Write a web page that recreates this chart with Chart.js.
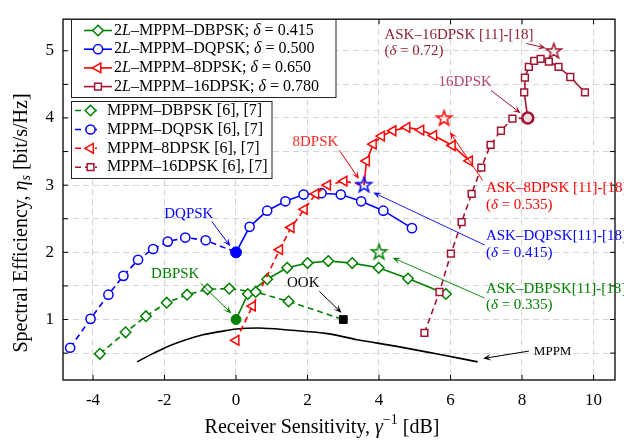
<!DOCTYPE html>
<html><head><meta charset="utf-8">
<script src="https://cdn.jsdelivr.net/npm/chart.js@4.4.0/dist/chart.umd.min.js"></script>
<style>html,body{margin:0;padding:0;background:#fff;}canvas{display:block;}</style>
</head><body>
<canvas id="c" width="624" height="445"></canvas>
<script>
// ---------------- data ----------------
const xTickValues = [-4, -2, 0, 2, 4, 6, 8, 10];
const xTickLabels = ['-4', '-2', '0', '2', '4', '6', '8', '10'];
const yGridValues = [0.5, 1, 1.5, 2, 2.5, 3, 3.5, 4, 4.5, 5];
const yTickLabels = ['', '1', '', '2', '', '3', '', '4', '', '5'];

// 2L-MPPM (solid)
const dbpsk2L_x = [0, 0.33, 0.87, 1.43, 2.0, 2.58, 3.25, 3.99, 4.81, 5.87];
const dbpsk2L_y = [1.0, 1.38, 1.6, 1.77, 1.84, 1.87, 1.84, 1.77, 1.61, 1.38];
const dqpsk2L_x = [0, 0.38, 0.87, 1.38, 1.89, 2.39, 2.93, 3.50, 4.12, 4.92];
const dqpsk2L_y = [2.0, 2.38, 2.62, 2.76, 2.86, 2.88, 2.86, 2.76, 2.62, 2.36];
const dpsk8_2L_x = [3.58, 3.65, 3.84, 4.07, 4.39, 4.78, 5.17, 5.53, 6.05, 6.53];
const dpsk8_2L_y = [3.0, 3.36, 3.61, 3.73, 3.81, 3.86, 3.82, 3.74, 3.59, 3.36];
const dpsk16_2L_x = [8.16, 8.06, 8.08, 8.19, 8.34, 8.52, 8.75, 9.02, 9.35, 9.76];
const dpsk16_2L_y = [4.0, 4.38, 4.60, 4.76, 4.85, 4.88, 4.84, 4.76, 4.61, 4.38];

// MPPM [6],[7] (dashed)
const dbpsk_x = [-3.81, -3.09, -2.52, -1.94, -1.37, -0.80, -0.19, 0.55, 1.47, 3.0];
const dbpsk_y = [0.49, 0.81, 1.05, 1.25, 1.37, 1.45, 1.46, 1.41, 1.27, 1.0];
const dqpsk_x = [-4.64, -4.07, -3.57, -3.15, -2.74, -2.32, -1.91, -1.42, -0.85, 0];
const dqpsk_y = [0.58, 1.01, 1.37, 1.65, 1.89, 2.05, 2.16, 2.22, 2.18, 2.0];
const dpsk8_x = [0.0, 0.46, 1.22, 1.54, 1.91, 2.23, 2.56, 3.02, 3.58];
const dpsk8_y = [0.69, 1.2, 2.04, 2.37, 2.64, 2.87, 3.0, 3.06, 3.0];
const dpsk16_x = [5.27, 5.69, 6.01, 6.31, 6.59, 6.86, 7.12, 7.41, 7.73, 8.16];
const dpsk16_y = [0.80, 1.41, 1.98, 2.45, 2.87, 3.26, 3.60, 3.81, 3.99, 4.0];

// MPPM (black)
const mppm_x = [-2.77, -2.3, -1.86, -1.4, -0.95, -0.45, 0, 0.62, 1.55, 2.56, 3.39, 4.5, 5.6, 6.76];
const mppm_y = [0.37, 0.50, 0.61, 0.70, 0.77, 0.82, 0.86, 0.875, 0.84, 0.79, 0.70, 0.60, 0.49, 0.37];

// ASK stars
const askStar_x = [4.0, 3.58, 5.82, 8.89];
const askStar_y = [2.0, 3.0, 3.99, 4.99];

// reference points
const ookX = [3.0], ookY = [1.0];
const dbpskRefX = [0], dbpskRefY = [1.0];
const dqpskRefX = [0], dqpskRefY = [2.0];
const dpsk16RefX = [8.16], dpsk16RefY = [4.0];

const legend1Labels = ['2*L*–MPPM–DBPSK; *δ* = 0.415', '2*L*–MPPM–DQPSK; *δ* = 0.500', '2*L*–MPPM–8DPSK; *δ* = 0.650', '2*L*–MPPM–16DPSK; *δ* = 0.780'];
const legend2Labels = ['MPPM–DBPSK [6], [7]', 'MPPM–DQPSK [6], [7]', 'MPPM–8DPSK [6], [7]', 'MPPM–16DPSK [6], [7]'];

// ---------------- styles ----------------
const GREEN = '#008000', BLUE = '#0000ff', RED = '#ff0000', CRIM = '#a2142f';
const FONT = '"Liberation Serif", "DejaVu Serif", serif';
const colors = [GREEN, BLUE, RED, CRIM];
const markers = ['rectRot', 'circle', 'triangle', 'rect'];
const mRadius = [5.3, 4.6, 5.6, 4.8];
const mRot = [0, 0, -90, 0];
const DASH = [6, 4];

const pts = (xs, ys) => xs.map((x, i) => ({ x: x, y: ys[i] }));

function starCanvas(color, R, lw) {
  const s = Math.ceil(2 * R + lw * 2 + 2);
  const c = document.createElement('canvas'); c.width = s; c.height = s;
  const g = c.getContext('2d');
  g.beginPath();
  for (let i = 0; i < 10; i++) {
    const a = -Math.PI / 2 + i * Math.PI / 5;
    const rr = i % 2 ? R * 0.40 : R;
    g.lineTo(s / 2 + rr * Math.cos(a), s / 2 + rr * Math.sin(a));
  }
  g.closePath(); g.strokeStyle = color; g.lineWidth = lw; g.lineJoin = 'miter'; g.stroke();
  return c;
}

function lineDs(label, xs, ys, k, dashed, skipFirst, skipLast) {
  const n = xs.length;
  return {
    label: label, data: pts(xs, ys), showLine: true,
    borderColor: colors[k], backgroundColor: '#fff', borderWidth: 1.6,
    borderDash: dashed ? DASH : [],
    pointStyle: markers[k], pointRotation: mRot[k],
    pointRadius: c => ((skipFirst && c.dataIndex === 0) || (skipLast && c.dataIndex === n - 1)) ? 0 : mRadius[k],
    pointBorderWidth: 1.5, pointBorderColor: colors[k], pointBackgroundColor: '#fff',
    tension: 0, order: 5
  };
}

const datasets = [
  { label: 'MPPM', data: pts(mppm_x, mppm_y), showLine: true, borderColor: '#000', borderWidth: 1.6, pointRadius: 0, tension: 0.35, cubicInterpolationMode: 'monotone', order: 9 },
  lineDs('MPPM–DBPSK', dbpsk_x, dbpsk_y, 0, true, false, true),
  lineDs('MPPM–DQPSK', dqpsk_x, dqpsk_y, 1, true, false, true),
  lineDs('MPPM–8DPSK', dpsk8_x, dpsk8_y, 2, true, false, true),
  lineDs('MPPM–16DPSK', dpsk16_x, dpsk16_y, 3, true, false, true),
  lineDs('2L–MPPM–DBPSK', dbpsk2L_x, dbpsk2L_y, 0, false, true, false),
  lineDs('2L–MPPM–DQPSK', dqpsk2L_x, dqpsk2L_y, 1, false, true, false),
  lineDs('2L–MPPM–8DPSK', dpsk8_2L_x, dpsk8_2L_y, 2, false, true, false),
  lineDs('2L–MPPM–16DPSK', dpsk16_2L_x, dpsk16_2L_y, 3, false, true, false),
  { label: 'OOK', data: pts(ookX, ookY), pointStyle: 'rect', pointRadius: 5.5, pointBackgroundColor: '#000', pointBorderColor: '#000', order: 1 },
  { label: 'DBPSK ref', data: pts(dbpskRefX, dbpskRefY), pointStyle: 'circle', pointRadius: 5, pointBackgroundColor: GREEN, pointBorderColor: GREEN, order: 1 },
  { label: 'DQPSK ref', data: pts(dqpskRefX, dqpskRefY), pointStyle: 'circle', pointRadius: 5.5, pointBackgroundColor: BLUE, pointBorderColor: BLUE, order: 1 },
  { label: '16DPSK ref', data: pts(dpsk16RefX, dpsk16RefY), pointStyle: 'circle', pointRadius: 5.5, pointBorderWidth: 2.6, pointBackgroundColor: '#f2dde2', pointBorderColor: CRIM, order: 1 },
  { label: 'ASK', data: pts(askStar_x, askStar_y), pointStyle: colors.map(c => starCanvas(c, 8, 1.5)), pointRadius: 8, order: 0 }
];

// ---------------- helpers ----------------
function parseRich(str) {
  return str.split('*').map((t, i) => ({ t: t, it: i % 2 === 1 })).filter(s => s.t.length);
}
function segFont(s, size) {
  const sz = size * (s.sc || 1);
  return (s.it ? 'italic ' : '') + sz + 'px ' + FONT;
}
function richWidth(ctx, segs, size) {
  let w = 0;
  for (const s of segs) { ctx.font = segFont(s, size); w += ctx.measureText(s.t).width; }
  return w;
}
function drawRich(ctx, segs, x, y, size, align) {
  const w = richWidth(ctx, segs, size);
  let cx = align === 'center' ? x - w / 2 : (align === 'right' ? x - w : x);
  ctx.textBaseline = 'middle'; ctx.textAlign = 'left';
  for (const s of segs) {
    ctx.font = segFont(s, size);
    ctx.fillText(s.t, cx, y + (s.dy || 0) * size);
    cx += ctx.measureText(s.t).width;
  }
}
function arrow(ctx, x1, y1, x2, y2, color, lw) {
  ctx.save(); ctx.strokeStyle = color; ctx.fillStyle = color; ctx.lineWidth = lw;
  const a = Math.atan2(y2 - y1, x2 - x1), L = 8, W = 3.3;
  const ca = Math.cos(a), sa = Math.sin(a);
  ctx.beginPath(); ctx.moveTo(x1, y1); ctx.lineTo(x2 - L * 0.6 * ca, y2 - L * 0.6 * sa); ctx.stroke();
  ctx.beginPath();
  ctx.moveTo(x2, y2);
  ctx.lineTo(x2 - L * ca + W * sa, y2 - L * sa - W * ca);
  ctx.lineTo(x2 - L * 0.55 * ca, y2 - L * 0.55 * sa);
  ctx.lineTo(x2 - L * ca - W * sa, y2 - L * sa + W * ca);
  ctx.closePath(); ctx.fill(); ctx.restore();
}

// annotations (data coords)
const annotations = [
  { lines: ['DQPSK'], color: BLUE, x: -1.32, y: 2.57, align: 'center', size: 15, arr: [-0.68, 2.46, -0.16, 2.09], ac: BLUE, lw: 1 },
  { lines: ['DBPSK'], color: GREEN, x: -1.70, y: 1.67, align: 'center', size: 15, arr: [-0.99, 1.54, -0.13, 1.09], ac: GREEN, lw: 1 },
  { lines: ['OOK'], color: '#000', x: 1.88, y: 1.55, align: 'center', size: 15, arr: [2.33, 1.42, 2.95, 1.10], ac: '#000', lw: 1 },
  { lines: ['8DPSK'], color: '#ff2a2a', x: 2.22, y: 3.64, align: 'center', size: 15, arr: [2.89, 3.52, 3.44, 3.09], ac: RED, lw: 1 },
  { lines: ['16DPSK'], color: '#b5446a', x: 6.41, y: 4.54, align: 'center', size: 15, arr: [7.13, 4.41, 7.96, 4.07], ac: CRIM, lw: 1 },
  { lines: ['ASK–16DPSK [11]-[18]', '(*δ* = 0.72)'], color: '#8b2232', x: 4.15, y: 5.24, align: 'left', size: 15, arr: [8.12, 5.11, 8.66, 5.04], ac: CRIM, lw: 1 },
  { lines: ['ASK–8DPSK [11]-[18]', '(*δ* = 0.535)'], color: RED, x: 6.99, y: 2.95, align: 'left', size: 15, arr: [6.9, 3.07, 5.98, 3.79], ac: RED, lw: 1 },
  { lines: ['ASK–DQPSK[11]-[18]', '(*δ* = 0.415)'], color: BLUE, x: 6.99, y: 2.24, align: 'left', size: 15, arr: [6.95, 2.11, 3.84, 2.89], ac: BLUE, lw: 0.9 },
  { lines: ['ASK–DBPSK[11]-[18]', '(*δ* = 0.335)'], color: GREEN, x: 6.99, y: 1.46, align: 'left', size: 15, arr: [6.95, 1.32, 4.38, 1.92], ac: GREEN, lw: 0.9 },
  { lines: ['MPPM'], color: '#000', x: 8.33, y: 0.53, align: 'left', size: 13, arr: [8.19, 0.53, 6.91, 0.42], ac: '#000', lw: 1 }
];

const framePlugin = {
  id: 'frame',
  afterDatasetsDraw(chart) {
    const { ctx, chartArea: a, scales: { x, y } } = chart;
    ctx.save();
    ctx.strokeStyle = '#000'; ctx.lineWidth = 1.3;
    ctx.strokeRect(a.left, a.top, a.right - a.left, a.bottom - a.top);
    ctx.beginPath(); ctx.lineWidth = 1;
    for (const v of xTickValues) {
      const p = x.getPixelForValue(v);
      ctx.moveTo(p, a.bottom); ctx.lineTo(p, a.bottom - 5);
      ctx.moveTo(p, a.top); ctx.lineTo(p, a.top + 5);
    }
    for (const v of yGridValues) {
      const p = y.getPixelForValue(v);
      ctx.moveTo(a.left, p); ctx.lineTo(a.left + 5, p);
      ctx.moveTo(a.right, p); ctx.lineTo(a.right - 5, p);
    }
    ctx.stroke();
    ctx.restore();
  },
  afterDraw(chart) {
    const { ctx, scales: { x, y } } = chart;
    ctx.save();
    // annotations
    for (const an of annotations) {
      if (an.arr) {
        arrow(ctx, x.getPixelForValue(an.arr[0]), y.getPixelForValue(an.arr[1]),
          x.getPixelForValue(an.arr[2]), y.getPixelForValue(an.arr[3]), an.ac, an.lw);
      }
      ctx.fillStyle = an.color;
      an.lines.forEach((ln, i) => {
        drawRich(ctx, parseRich(ln), x.getPixelForValue(an.x), y.getPixelForValue(an.y) + i * 16.6, an.size, an.align);
      });
    }
    // axis titles
    ctx.fillStyle = '#000';
    drawRich(ctx, [{ t: 'Receiver Sensitivity, ' }, { t: 'γ', it: true }, { t: '−1', sc: 0.7, dy: -0.38 }, { t: ' [dB]' }], 322, 428, 20, 'center');
    ctx.save();
    ctx.translate(22, 223); ctx.rotate(-Math.PI / 2);
    drawRich(ctx, [{ t: 'Spectral Efficiency, ' }, { t: 'η', it: true }, { t: 's', it: true, sc: 0.7, dy: 0.22 }, { t: ' [bit/s/Hz]' }], 0, 0, 20, 'center');
    ctx.restore();
    // legends
    const boxes = [
      { x: 71.5, y: 19.5, w: 264.5, h: 78, labels: legend1Labels, dashed: false, l0: 84, l1: 112, m: 98, tx: 114, ry: [30.5, 49.2, 67.9, 86.6] },
      { x: 71.5, y: 101.5, w: 200.5, h: 77, labels: legend2Labels, dashed: true, l0: 75, l1: 97, m: 90.5, tx: 107, ry: [110.5, 129.5, 148.3, 167.2] }
    ];
    for (const b of boxes) {
      ctx.fillStyle = '#fff'; ctx.fillRect(b.x, b.y, b.w, b.h);
      ctx.strokeStyle = '#222'; ctx.lineWidth = 1; ctx.strokeRect(b.x, b.y, b.w, b.h);
      b.labels.forEach((lab, k) => {
        const yy = b.ry[k];
        ctx.save();
        ctx.strokeStyle = colors[k]; ctx.lineWidth = 1.6; ctx.setLineDash(b.dashed ? DASH : []);
        ctx.beginPath(); ctx.moveTo(b.l0, yy); ctx.lineTo(b.l1, yy); ctx.stroke();
        ctx.setLineDash([]);
        ctx.fillStyle = '#fff'; ctx.lineWidth = 1.5;
        Chart.helpers.drawPoint(ctx, { pointStyle: markers[k], rotation: mRot[k], radius: mRadius[k], borderWidth: 1.5 }, b.m, yy);
        ctx.restore();
        ctx.fillStyle = '#000';
        drawRich(ctx, parseRich(lab), b.tx, yy, 16, 'left');
      });
    }
    ctx.restore();
  }
};

new Chart(document.getElementById('c'), {
  type: 'scatter',
  data: { datasets: datasets },
  options: {
    responsive: false, animation: false, devicePixelRatio: 1,
    layout: { padding: { top: 6, right: 3, left: 0, bottom: 0 } },
    plugins: { legend: { display: false }, tooltip: { enabled: false } },
    scales: {
      x: {
        type: 'linear', min: -4.84, max: 10.6,
        afterBuildTicks: s => { s.ticks = xTickValues.map(v => ({ value: v })); },
        afterFit: s => { s.height = 65; },
        ticks: { callback: v => xTickLabels[xTickValues.indexOf(v)], color: '#000', font: { family: FONT, size: 17 }, padding: 10, maxRotation: 0, autoSkip: false },
        grid: { color: '#d4d4d4', lineWidth: 1.1, drawTicks: false },
        border: { display: false, dash: [6, 4] }
      },
      y: {
        type: 'linear', min: 0.1, max: 5.47,
        afterBuildTicks: s => { s.ticks = yGridValues.map(v => ({ value: v })); },
        afterFit: s => { s.width = 63; },
        ticks: { callback: v => yTickLabels[yGridValues.indexOf(v)], color: '#000', font: { family: FONT, size: 17 }, padding: 9, autoSkip: false },
        grid: { color: '#d4d4d4', lineWidth: 1.1, drawTicks: false },
        border: { display: false, dash: [6, 4] }
      }
    }
  },
  plugins: [framePlugin]
});
</script>
</body></html>
